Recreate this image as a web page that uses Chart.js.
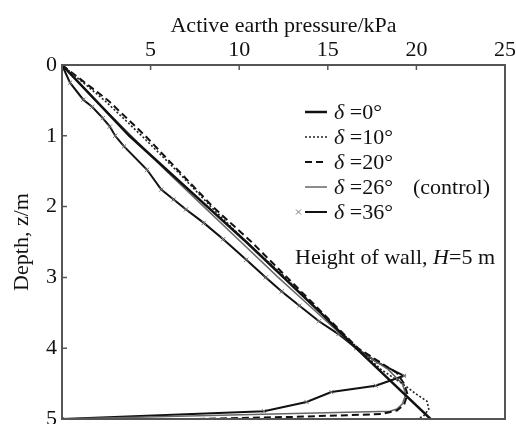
<!DOCTYPE html>
<html>
<head>
<meta charset="utf-8">
<script src="https://cdn.jsdelivr.net/npm/chart.js@4"></script>
<style>
  html, body { margin: 0; padding: 0; background: #fff; overflow: hidden; }
  #wrap { width: 516px; height: 424px; }
</style>
</head>
<body>
<div id="wrap"><canvas id="myChart"></canvas></div>
<script>
// depth (m) / pressure (kPa)
const xTicks = [0, 5, 10, 15, 20, 25]
const yTicks = [0, 1, 2, 3, 4, 5]

const d0Depth = [0, 0.5, 1, 1.5, 2, 2.5, 3, 3.5, 4, 4.5, 5]
const d0Press = [0, 1.9, 3.8, 6.0, 8.2, 10.4, 12.5, 14.6, 16.6, 18.7, 20.8]

const d10Depth = [0, 0.25, 0.5, 1, 1.5, 2, 2.5, 3, 3.5, 4, 4.3, 4.5, 4.65, 4.75, 4.86, 4.96, 5, 5]
const d10Press = [0, 1.2, 2.4, 4.5, 6.5, 8.4, 10.4, 12.6, 14.6, 16.7, 18.0, 19.2, 20.0, 20.6, 20.7, 20.4, 20.0, 0]

const d20Depth = [0, 0.25, 0.5, 1, 1.5, 2, 2.5, 3, 3.5, 4, 4.35, 4.5, 4.65, 4.8, 4.88, 4.93, 4.95, 4.97, 5, 5]
const d20Press = [0, 1.3, 2.6, 4.7, 6.6, 8.5, 10.7, 12.7, 14.7, 16.7, 18.9, 19.3, 19.5, 19.3, 18.9, 18.0, 15.6, 13.0, 7.4, 0]

const d26Depth = [0, 0.5, 1, 1.5, 2, 2.5, 3, 3.5, 4, 4.3, 4.5, 4.65, 4.79, 4.86, 4.89, 5]
const d26Press = [0, 1.9, 3.9, 5.9, 8.0, 10.1, 12.2, 14.4, 16.6, 18.4, 19.2, 19.4, 19.2, 18.9, 18.5, 0]

const d36Depth = [0, 0.25, 0.49, 0.59, 0.75, 0.87, 1.0, 1.15, 1.48, 1.76, 1.9, 2.04, 2.23, 2.46, 2.75, 3.0, 3.2, 3.4, 3.62, 3.8, 4.0, 4.2, 4.39, 4.53, 4.62, 4.76, 4.89, 5]
const d36Press = [0, 0.45, 1.2, 1.7, 2.3, 2.7, 3.0, 3.5, 4.8, 5.6, 6.3, 7.0, 8.0, 9.1, 10.4, 11.5, 12.4, 13.4, 14.5, 15.6, 16.6, 17.8, 19.3, 17.7, 15.2, 13.8, 11.4, 0]

const legendAngles = ['0°', '10°', '20°', '26°', '36°']

const pts = (p, z) => p.map((v, i) => ({ x: v, y: z[i] }))

const serif = "'Liberation Serif', 'Times New Roman', serif"
const fs = 22

const datasets = [
  { label: '0°', data: pts(d0Press, d0Depth), borderColor: '#111', borderWidth: 2.5, pointRadius: 0 },
  { label: '10°', data: pts(d10Press, d10Depth), borderColor: '#222', borderWidth: 1.6, borderDash: [2, 2], pointRadius: 0 },
  { label: '20°', data: pts(d20Press, d20Depth), borderColor: '#111', borderWidth: 2, borderDash: [7, 4], pointRadius: 0 },
  { label: '26°', data: pts(d26Press, d26Depth), borderColor: '#666', borderWidth: 1.5, pointRadius: 0 },
  { label: '36°', data: pts(d36Press, d36Depth), borderColor: '#111', borderWidth: 2,
    pointStyle: 'crossRot', pointRadius: 3, pointBorderColor: '#777', pointBorderWidth: 1 }
]
datasets.forEach(d => { d.showLine = true; d.fill = false; d.tension = 0 })

// inward tick marks + right/bottom frame
const frame = {
  id: 'frame',
  afterDraw(chart) {
    const c = chart.ctx, a = chart.chartArea
    const sx = chart.scales.x, sy = chart.scales.y
    c.save()
    c.strokeStyle = '#555'
    c.lineWidth = 2
    c.strokeRect(a.left, a.top, a.right - a.left, a.bottom - a.top)
    c.lineWidth = 1.5
    c.beginPath()
    xTicks.forEach(v => {
      const px = sx.getPixelForValue(v)
      c.moveTo(px, a.top); c.lineTo(px, a.top + 5)
    })
    yTicks.forEach(v => {
      const py = sy.getPixelForValue(v)
      c.moveTo(a.left, py); c.lineTo(a.left + 5, py)
    })
    c.stroke()
    c.restore()
  }
}

// legend inside the plot
const inLegend = {
  id: 'inLegend',
  afterDraw(chart) {
    const c = chart.ctx
    const x0 = 305, x1 = 327, tx = 334
    const rows = [112, 137, 162, 187, 212]
    c.save()
    c.textBaseline = 'middle'
    datasets.forEach((d, i) => {
      const y = rows[i]
      c.strokeStyle = d.borderColor
      c.lineWidth = d.borderWidth
      c.setLineDash(d.borderDash || [])
      c.beginPath(); c.moveTo(x0, y); c.lineTo(x1, y); c.stroke()
      c.setLineDash([])
      if (d.pointStyle) {
        c.strokeStyle = '#777'; c.lineWidth = 1
        c.beginPath()
        c.moveTo(296, y - 2.5); c.lineTo(301, y + 2.5)
        c.moveTo(301, y - 2.5); c.lineTo(296, y + 2.5)
        c.stroke()
      }
      c.fillStyle = '#111'
      c.font = 'italic ' + fs + 'px ' + serif
      c.fillText('δ', tx, y + 1)
      let w = c.measureText('δ ').width
      c.font = fs + 'px ' + serif
      c.fillText('=' + legendAngles[i], tx + w, y + 1)
      if (i === 3) c.fillText('(control)', 413, y + 1)
    })
    const hy = 258
    c.font = fs + 'px ' + serif
    let s = 'Height of wall, '
    c.fillText(s, 295, hy)
    let hx = 295 + c.measureText(s).width
    c.font = 'italic ' + fs + 'px ' + serif
    c.fillText('H', hx, hy)
    hx += c.measureText('H').width
    c.font = fs + 'px ' + serif
    c.fillText('=5 m', hx, hy)
    c.restore()
  }
}

const config = {
  type: 'scatter',
  data: { datasets },
  options: {
    responsive: true,
    maintainAspectRatio: false,
    animation: false,
    layout: { padding: { left: 0, right: 11, top: 0, bottom: 3 } },
    plugins: { legend: { display: false }, tooltip: { enabled: false } },
    scales: {
      x: {
        type: 'linear',
        position: 'top',
        min: 0,
        max: 25,
        afterFit(s) { s.paddingLeft = 0; s.paddingRight = 0; s.height = 65 },
        ticks: {
          stepSize: 5,
          padding: 2,
          color: '#111',
          font: { family: serif, size: fs },
          callback: v => (v === 0 ? '' : v)
        },
        grid: { drawOnChartArea: false, drawTicks: false },
        border: { display: false },
        title: {
          display: true,
          text: 'Active earth pressure/kPa',
          color: '#111',
          font: { family: serif, size: fs },
          padding: { top: 13, bottom: 0 }
        }
      },
      y: {
        type: 'linear',
        reverse: true,
        min: 0,
        max: 5,
        afterFit(s) { s.paddingTop = 0; s.paddingBottom = 0; s.width = 62 },
        ticks: {
          stepSize: 1,
          padding: 5,
          color: '#111',
          font: { family: serif, size: fs }
        },
        grid: { drawOnChartArea: false, drawTicks: false },
        border: { display: false },
        title: {
          display: true,
          text: 'Depth, z/m',
          color: '#111',
          font: { family: serif, size: fs },
          padding: { top: 9, bottom: 0 }
        }
      }
    }
  },
  plugins: [frame, inLegend]
}

const myChart = new Chart(document.getElementById('myChart'), config)
</script>
</body>
</html>
